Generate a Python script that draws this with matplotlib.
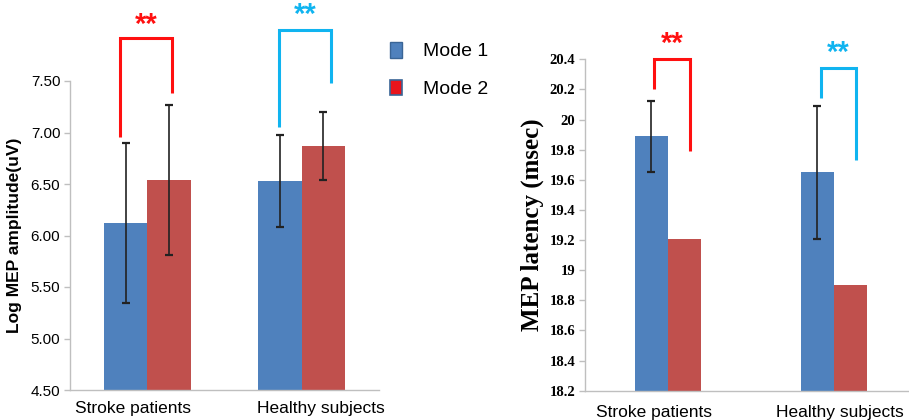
import matplotlib
matplotlib.use("Agg")
import matplotlib.pyplot as plt
import matplotlib.transforms as mtransforms
from matplotlib.patches import Patch
import numpy as np

# ---------------- data ----------------
categories = ["Stroke patients", "Healthy subjects"]
series_names = ["Mode 1", "Mode 2"]

amp_mode1 = [6.12, 6.53]
amp_mode2 = [6.54, 6.87]
amp_err1 = [0.78, 0.45]
amp_err2 = [0.73, 0.33]
amp_ticks = [4.50, 5.00, 5.50, 6.00, 6.50, 7.00, 7.50]

lat_mode1 = [19.89, 19.65]
lat_mode2 = [19.21, 18.90]
lat_err1 = [0.235, 0.44]
lat_ticks = [18.2, 18.4, 18.6, 18.8, 19.0, 19.2, 19.4, 19.6, 19.8, 20.0, 20.2, 20.4]
lat_ticklabels = ["18.2", "18.4", "18.6", "18.8", "19", "19.2", "19.4", "19.6", "19.8", "20", "20.2", "20.4"]

BLUE = "#4F81BD"
RED = "#C0504D"
SIG_RED = "#FF1010"
SIG_BLUE = "#10B4F0"
AXIS_GRAY = "#BFBFBF"

W, H = 909, 420
fig = plt.figure(figsize=(W / 100, H / 100), dpi=100)

x = np.arange(len(categories))
sans = ["Liberation Sans", "DejaVu Sans"]
serif = ["Liberation Serif", "DejaVu Serif"]


def style_axes(ax):
    for s in ["top", "right"]:
        ax.spines[s].set_visible(False)
    for s in ["left", "bottom"]:
        ax.spines[s].set_color(AXIS_GRAY)
        ax.spines[s].set_linewidth(1.0)
    ax.tick_params(axis="y", direction="out", length=4, color=AXIS_GRAY, width=1, pad=3)
    ax.tick_params(axis="x", length=0, pad=8)
    ax.set_xlim(-0.5, 1.5)


def bracket(ax, x0, x1, y0, ytop, y1, color, star_y):
    ax.plot([x0, x0, x1, x1], [y0, ytop, ytop, y1], color=color, lw=2.2,
            clip_on=False, solid_capstyle="butt", solid_joinstyle="miter")
    ax.text((x0 + x1) / 2, star_y, "**", color=color, ha="center", va="center",
            fontsize=21, fontweight="bold", family=sans, clip_on=False)


def shift_labels(ax, shifts_px):
    for lab, dx in zip(ax.get_xticklabels(), shifts_px):
        lab.set_transform(lab.get_transform() + mtransforms.ScaledTranslation(dx / 100, 0, fig.dpi_scale_trans))


# ---------------- left panel ----------------
ax1 = fig.add_axes([70 / W, 30 / H, 309 / W, 309 / H])
bw1 = 0.28
ax1.bar(x - bw1 / 2, amp_mode1, bw1, bottom=0, color=BLUE, zorder=2)
ax1.bar(x + bw1 / 2, amp_mode2, bw1, color=RED, zorder=2)
ax1.errorbar(x - bw1 / 2, amp_mode1, yerr=amp_err1, fmt="none", ecolor="#222222",
             elinewidth=1.2, capsize=3, capthick=1.6, zorder=3)
ax1.errorbar(x + bw1 / 2, amp_mode2, yerr=amp_err2, fmt="none", ecolor="#222222",
             elinewidth=1.2, capsize=3, capthick=1.6, zorder=3)
ax1.set_ylim(4.5, 7.5)
ax1.set_yticks(amp_ticks)
ax1.set_yticklabels([f"{t:.2f}" for t in amp_ticks], fontsize=11, family=sans)
ax1.set_xticks(x)
ax1.set_xticklabels(categories, fontsize=12.5, family=sans)
style_axes(ax1)
ax1.set_ylabel("Log MEP amplitude(uV)", fontsize=12.5, fontweight="bold", family=sans, labelpad=6)
shift_labels(ax1, [-14, 19])

bracket(ax1, -0.175, 0.162, 6.96, 7.92, 7.38, SIG_RED, 8.04)
bracket(ax1, 1 - 0.149, 1 + 0.188, 7.05, 8.00, 7.48, SIG_BLUE, 8.14)

# legend
handles = [Patch(facecolor=BLUE, edgecolor="#3A6596", linewidth=1.0),
           Patch(facecolor="#E8141B", edgecolor="#3A6596", linewidth=1.2)]
fig.legend(handles, series_names, loc="upper left", bbox_to_anchor=(390 / W, 1 - 42 / H),
           frameon=False, handlelength=0.6, handleheight=0.85,
           handletextpad=1.1, labelspacing=1.0, borderpad=0, borderaxespad=0,
           prop={"family": sans, "size": 14})

# ---------------- right panel ----------------
ax2 = fig.add_axes([585 / W, 29.3 / H, 332 / W, 331.4 / H])
bw2 = 0.2
ax2.bar(x - bw2 / 2, lat_mode1, bw2, bottom=0, color=BLUE, zorder=2)
ax2.bar(x + bw2 / 2, lat_mode2, bw2, color=RED, zorder=2)
ax2.errorbar(x - bw2 / 2, lat_mode1, yerr=lat_err1, fmt="none", ecolor="#222222",
             elinewidth=1.2, capsize=3, capthick=1.6, zorder=3)
ax2.set_ylim(18.2, 20.4)
ax2.set_yticks(lat_ticks)
ax2.set_yticklabels(lat_ticklabels, fontsize=10.5, family=serif, fontweight="bold")
ax2.set_xticks(x)
ax2.set_xticklabels(categories, fontsize=12.5, family=sans)
style_axes(ax2)
ax2.tick_params(axis="x", pad=10)
ax2.set_ylabel("MEP latency (msec)", fontsize=18, fontweight="bold", family=serif, labelpad=4)
shift_labels(ax2, [-14, 6])

bracket(ax2, -0.084, 0.131, 20.205, 20.40, 19.79, SIG_RED, 20.50)
bracket(ax2, 1 - 0.076, 1 + 0.131, 20.146, 20.34, 19.73, SIG_BLUE, 20.44)

fig.savefig("out.png", dpi=100)
